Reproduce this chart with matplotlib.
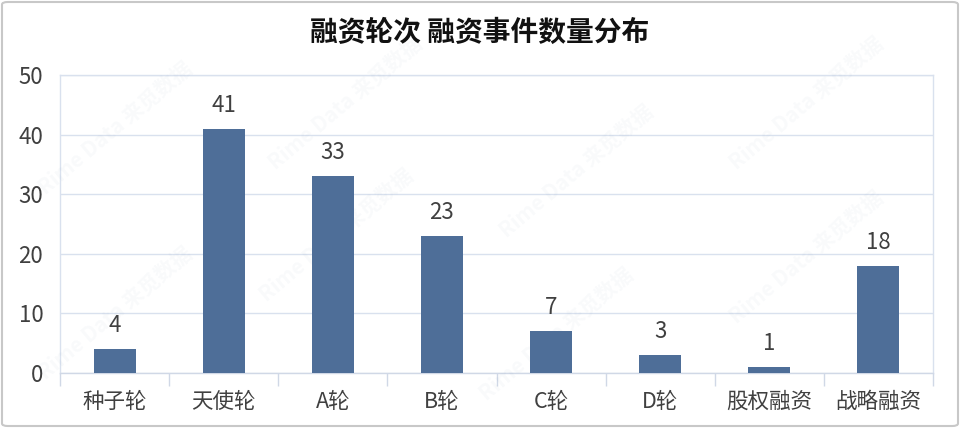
import matplotlib
matplotlib.use("Agg")
import matplotlib.pyplot as plt
from matplotlib.patches import FancyBboxPatch

plt.rcParams['font.family'] = ['Noto Sans CJK SC', 'DejaVu Sans']

categories = ["种子轮", "天使轮", "A轮", "B轮", "C轮", "D轮", "股权融资", "战略融资"]
values = [4, 41, 33, 23, 7, 3, 1, 18]
yticks = [0, 10, 20, 30, 40, 50]
title = "融资轮次 融资事件数量分布"

W, H = 960, 428
fig = plt.figure(figsize=(W / 100, H / 100), dpi=100)
ax = fig.add_axes([60 / W, 1 - 373 / H, (933 - 60) / W, (373 - 75) / H])

# faint watermark
for wx, wy in [(0.12, 0.7), (0.35, 0.45), (0.58, 0.22), (0.36, 0.76), (0.6, 0.6), (0.84, 0.4), (0.12, 0.27), (0.84, 0.76)]:
    fig.text(wx, wy, "Rime Data 来觅数据", rotation=40, fontsize=15, color='#4F6F99',
             alpha=0.035, ha='center', va='center', fontweight='bold', zorder=0)

bar_color = '#4E6E98'
x = range(len(categories))
ax.bar(x, values, width=0.385, color=bar_color, zorder=3)
for xi, v in zip(x, values):
    ax.text(xi, v + 2.0, str(v), ha='center', va='bottom', fontsize=16, color='#404040')

ax.set_xlim(-0.5, len(categories) - 0.5)
ax.set_ylim(0, 50)
ax.set_yticks(yticks)
ax.set_yticklabels([str(t) for t in yticks])
ax.grid(axis='y', color='#D9E1EE', linewidth=1, zorder=0)
ax.set_axisbelow(True)
for s in ['left', 'right', 'top']:
    ax.spines[s].set_color('#D9E1EE')
    ax.spines[s].set_linewidth(1)
ax.spines['bottom'].set_color('#D0D8E6')
ax.spines['bottom'].set_linewidth(1)

ax.set_xticks(x)
ax.set_xticklabels(categories, fontsize=15.5, color='#404040')
ax.tick_params(axis='x', length=0, pad=13)
ax.tick_params(axis='y', length=0, labelsize=16, labelcolor='#404040', pad=12)
ax.set_xticks([i - 0.5 for i in range(len(categories) + 1)], minor=True)
ax.tick_params(axis='x', which='minor', length=9, color='#D0D8E6', width=1)

fig.text(0.5, 1 - 33 / H, title, ha='center', va='center', fontsize=20, fontweight='bold', color='#111111')

border = FancyBboxPatch((2 / W, 2 / H), 1 - 4 / W, 1 - 4 / H, boxstyle="round,pad=0,rounding_size=0.006",
                        transform=fig.transFigure, fill=False, edgecolor='#C8C8C8', linewidth=1.5)
fig.patches.append(border)

fig.savefig("out.png", dpi=100)
